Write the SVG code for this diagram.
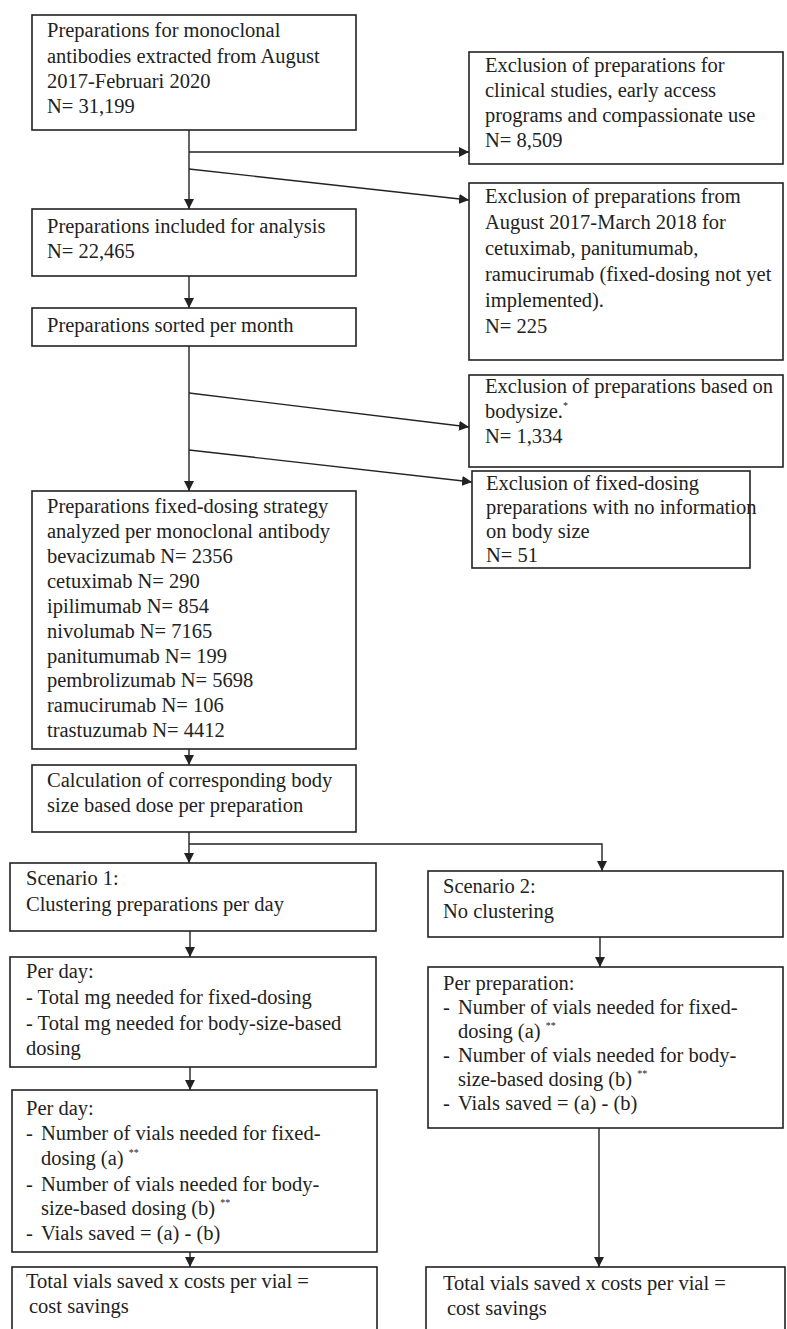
<svg xmlns="http://www.w3.org/2000/svg" width="787" height="1329" viewBox="0 0 787 1329">
<style>
.box{fill:#fff;stroke:#222;stroke-width:1.6}
.t{font-family:"Liberation Serif","Times New Roman",serif;font-size:20.5px;fill:#222}
.sup{font-size:10px}
.c{fill:none;stroke:#222;stroke-width:1.4}
</style>
<defs>
<marker id="ah" markerUnits="userSpaceOnUse" markerWidth="10" markerHeight="10" refX="10" refY="5" orient="auto">
<path d="M0,0 L10,5 L0,10 z" fill="#222"/>
</marker>
</defs>
<rect width="787" height="1329" fill="#fff"/>
<g id="connectors">
<line class="c" x1="189" y1="130" x2="189" y2="209" marker-end="url(#ah)"/>
<line class="c" x1="189" y1="152" x2="469" y2="152" marker-end="url(#ah)"/>
<line class="c" x1="189" y1="169" x2="469" y2="200" marker-end="url(#ah)"/>
<line class="c" x1="189" y1="276" x2="189" y2="308" marker-end="url(#ah)"/>
<line class="c" x1="189" y1="346" x2="189" y2="491" marker-end="url(#ah)"/>
<line class="c" x1="189" y1="393" x2="469" y2="427" marker-end="url(#ah)"/>
<line class="c" x1="189" y1="450" x2="472" y2="482" marker-end="url(#ah)"/>
<line class="c" x1="189" y1="749" x2="189" y2="765" marker-end="url(#ah)"/>
<line class="c" x1="189" y1="832" x2="189" y2="863" marker-end="url(#ah)"/>
<path class="c" d="M189,844 H602 V871" marker-end="url(#ah)"/>
<line class="c" x1="190" y1="931" x2="190" y2="957" marker-end="url(#ah)"/>
<line class="c" x1="600" y1="937" x2="600" y2="967" marker-end="url(#ah)"/>
<line class="c" x1="190" y1="1067" x2="190" y2="1090" marker-end="url(#ah)"/>
<line class="c" x1="190" y1="1252" x2="190" y2="1267" marker-end="url(#ah)"/>
<line class="c" x1="599" y1="1128" x2="599" y2="1267" marker-end="url(#ah)"/>
</g>
<g id="n1">
<rect class="box" x="32" y="15" width="324" height="115"/>
<text class="t" x="47" y="37">Preparations for monoclonal</text>
<text class="t" x="47" y="63">antibodies extracted from August</text>
<text class="t" x="47" y="88">2017-Februari 2020</text>
<text class="t" x="47" y="113">N= 31,199</text>
</g>
<g id="n2">
<rect class="box" x="469" y="52" width="314" height="112"/>
<text class="t" x="485" y="72">Exclusion of preparations for</text>
<text class="t" x="485" y="97">clinical studies, early access</text>
<text class="t" x="485" y="122">programs and compassionate use</text>
<text class="t" x="485" y="147">N= 8,509</text>
</g>
<g id="n3">
<rect class="box" x="32" y="209" width="324" height="67"/>
<text class="t" x="47" y="233">Preparations included for analysis</text>
<text class="t" x="47" y="258">N= 22,465</text>
</g>
<g id="n4">
<rect class="box" x="469" y="183" width="314" height="177"/>
<text class="t" x="485" y="203">Exclusion of preparations from</text>
<text class="t" x="485" y="229">August 2017-March 2018 for</text>
<text class="t" x="485" y="255">cetuximab, panitumumab,</text>
<text class="t" x="485" y="281">ramucirumab (fixed-dosing not yet</text>
<text class="t" x="485" y="307">implemented).</text>
<text class="t" x="485" y="333">N= 225</text>
</g>
<g id="n5">
<rect class="box" x="32" y="308" width="324" height="38"/>
<text class="t" x="47" y="332">Preparations sorted per month</text>
</g>
<g id="n6">
<rect class="box" x="469" y="375" width="314" height="92"/>
<text class="t" x="485" y="393">Exclusion of preparations based on</text>
<text class="t" x="485" y="418">bodysize.<tspan class="sup" dy="-9">*</tspan></text>
<text class="t" x="485" y="443">N= 1,334</text>
</g>
<g id="n7">
<rect class="box" x="472" y="471" width="278" height="97"/>
<text class="t" x="486" y="490">Exclusion of fixed-dosing</text>
<text class="t" x="486" y="514">preparations with no information</text>
<text class="t" x="486" y="538">on body size</text>
<text class="t" x="486" y="562">N= 51</text>
</g>
<g id="n8">
<rect class="box" x="32" y="491" width="324" height="258"/>
<text class="t" x="47" y="513">Preparations fixed-dosing strategy</text>
<text class="t" x="47" y="538">analyzed per monoclonal antibody</text>
<text class="t" x="47" y="563">bevacizumab N= 2356</text>
<text class="t" x="47" y="588">cetuximab N= 290</text>
<text class="t" x="47" y="613">ipilimumab N= 854</text>
<text class="t" x="47" y="638">nivolumab N= 7165</text>
<text class="t" x="47" y="663">panitumumab N= 199</text>
<text class="t" x="47" y="687">pembrolizumab N= 5698</text>
<text class="t" x="47" y="712">ramucirumab N= 106</text>
<text class="t" x="47" y="737">trastuzumab N= 4412</text>
</g>
<g id="n9">
<rect class="box" x="32" y="765" width="324" height="67"/>
<text class="t" x="47" y="787">Calculation of corresponding body</text>
<text class="t" x="47" y="812">size based dose per preparation</text>
</g>
<g id="n10">
<rect class="box" x="10" y="863" width="366" height="68"/>
<text class="t" x="26" y="885">Scenario 1:</text>
<text class="t" x="26" y="911">Clustering preparations per day</text>
</g>
<g id="n11">
<rect class="box" x="428" y="871" width="355" height="66"/>
<text class="t" x="443" y="893">Scenario 2:</text>
<text class="t" x="443" y="918">No clustering</text>
</g>
<g id="n12">
<rect class="box" x="10" y="957" width="366" height="110"/>
<text class="t" x="26" y="978">Per day:</text>
<text class="t" x="26" y="1004">- Total mg needed for fixed-dosing</text>
<text class="t" x="26" y="1030">- Total mg needed for body-size-based</text>
<text class="t" x="26" y="1055">dosing</text>
</g>
<g id="n13">
<rect class="box" x="428" y="967" width="355" height="161"/>
<text class="t" x="443" y="990">Per preparation:</text>
<text class="t" x="443" y="1014">-</text><text class="t" x="458" y="1014">Number of vials needed for fixed-</text>
<text class="t" x="458" y="1038">dosing (a) <tspan class="sup" dy="-9">**</tspan></text>
<text class="t" x="443" y="1062">-</text><text class="t" x="458" y="1062">Number of vials needed for body-</text>
<text class="t" x="458" y="1086">size-based dosing (b) <tspan class="sup" dy="-9">**</tspan></text>
<text class="t" x="443" y="1110">-</text><text class="t" x="458" y="1110">Vials saved = (a) - (b)</text>
</g>
<g id="n14">
<rect class="box" x="12" y="1090" width="365" height="162"/>
<text class="t" x="26" y="1115">Per day:</text>
<text class="t" x="26" y="1140">-</text><text class="t" x="41" y="1140">Number of vials needed for fixed-</text>
<text class="t" x="41" y="1165">dosing (a) <tspan class="sup" dy="-9">**</tspan></text>
<text class="t" x="26" y="1191">-</text><text class="t" x="41" y="1191">Number of vials needed for body-</text>
<text class="t" x="41" y="1215">size-based dosing (b) <tspan class="sup" dy="-9">**</tspan></text>
<text class="t" x="26" y="1240">-</text><text class="t" x="41" y="1240">Vials saved = (a) - (b)</text>
</g>
<g id="n15">
<rect class="box" x="12" y="1267" width="365" height="80"/>
<text class="t" x="26" y="1288">Total vials saved x costs per vial =</text>
<text class="t" x="29" y="1313">cost savings</text>
</g>
<g id="n16">
<rect class="box" x="426" y="1267" width="359" height="80"/>
<text class="t" x="443" y="1290">Total vials saved x costs per vial =</text>
<text class="t" x="447" y="1315">cost savings</text>
</g>
</svg>
